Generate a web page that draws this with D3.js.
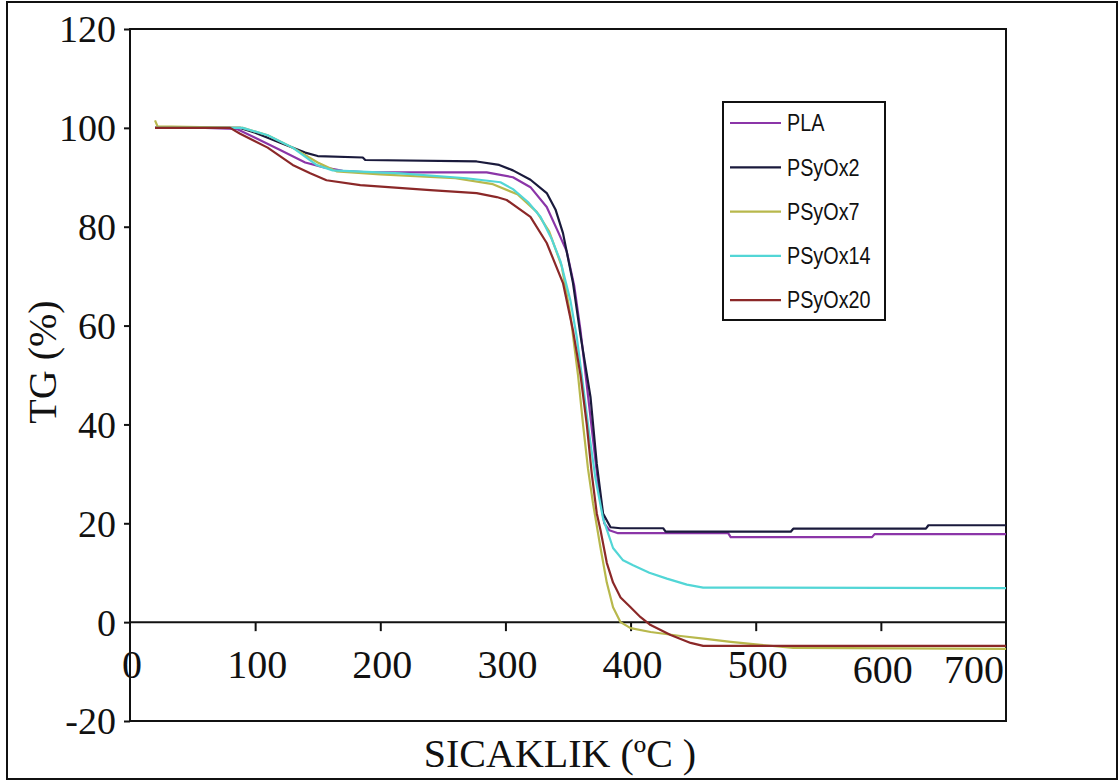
<!DOCTYPE html>
<html>
<head>
<meta charset="utf-8">
<script src="https://cdn.jsdelivr.net/npm/d3@7"></script>
<style>
  html, body { margin: 0; padding: 0; background: #fff; }
  svg { display: block; }
</style>
</head>
<body>
<svg id="chart" width="1119" height="781"></svg>
<script>
// ---- data ----
const seriesNames = ["PLA", "PSyOx2", "PSyOx7", "PSyOx14", "PSyOx20"];
const seriesColors = ["#8b35a8", "#1a1a3c", "#b8b84c", "#52d6d6", "#8b2828"];

const tempPLA = [20,60,85,100,120,140,155,170,190,285,306,320,333,342,349,355,360,365,370,375,379,383,390,478,480,593,595,700];
const tgPLA   = [100,100,99.8,98,95.5,93,92,91.3,91,91,90,88,84,79,75,68,59,48,37,26,20,18.6,18,18,17.2,17.2,17.8,17.8];

const tempPSyOx2 = [20,88,100,120,140,150,186,188,277,295,306,320,333,340,346,354,360,368,373,378,384,392,426,428,528,530,636,638,700];
const tgPSyOx2   = [100,100,99,97,95,94.3,94,93.5,93.2,92.5,91.4,89.5,86.8,83.5,78.7,68.6,58,45.5,32,22,19.2,19,19,18.3,18.3,18.9,18.9,19.6,19.6];

const tempPSyOx7 = [20,22,90,110,130,150,165,200,260,290,310,325,335,345,352,358,362,366,370,376,381,386,392,400,416,440,460,480,504,530,700];
const tgPSyOx7   = [101.5,100.3,100,98.5,96,93,91.2,90.6,89.8,88.6,86.5,83,79,72,62,50,40,31,24,15,8,3,0,-1.2,-2,-2.8,-3.4,-4,-4.6,-5.2,-5.4];

const tempPSyOx14 = [20,90,110,130,149,162,216,269,296,306,318,328,337,344,352,357,362,367,372,378,386,394,402,415,429,445,458,700];
const tgPSyOx14   = [100,100,98.5,96,92.5,91.4,90.8,89.8,89,87.6,85,82,77.5,73,65,57.7,48,38,29,21,15,12.5,11.5,10,8.8,7.6,7,6.9];

const tempPSyOx20 = [20,80,88,110,130,144,157,184,240,277,293,301,320,333,346,354,360,365,369,373,376,381,386,392,400,408,416,432,448,458,700];
const tgPSyOx20   = [100,100,98.8,96,92.5,90.8,89.4,88.4,87.4,86.8,86,85.4,82,76.7,68.6,59,50,40,30,22,18.6,12,8,5,3,1,-0.6,-2.6,-4.2,-4.8,-4.8];

const xTicks = [0,100,200,300,400,500,600,700];
const yTicks = [-20,0,20,40,60,80,100,120];

const seriesData = [
  {name: seriesNames[0], color: seriesColors[0], t: tempPLA, v: tgPLA},
  {name: seriesNames[1], color: seriesColors[1], t: tempPSyOx2, v: tgPSyOx2},
  {name: seriesNames[2], color: seriesColors[2], t: tempPSyOx7, v: tgPSyOx7},
  {name: seriesNames[3], color: seriesColors[3], t: tempPSyOx14, v: tgPSyOx14},
  {name: seriesNames[4], color: seriesColors[4], t: tempPSyOx20, v: tgPSyOx20}
];

// ---- layout ----
const svg = d3.select("#chart");
const M = {left: 130, top: 29, right: 1006, bottom: 721};
const x = d3.scaleLinear().domain([0, 700]).range([M.left, M.right]);
const y = d3.scaleLinear().domain([-20, 120]).range([M.bottom, M.top]);

const serif = "'Liberation Serif', 'Times New Roman', serif";
const sans = "'Liberation Sans', Arial, sans-serif";

// outer frame
svg.append("rect").attr("x", 7).attr("y", 2).attr("width", 1110).attr("height", 777)
  .attr("fill", "#fff").attr("stroke", "#111").attr("stroke-width", 2);

// plot frame
svg.append("rect").attr("x", M.left).attr("y", M.top)
  .attr("width", M.right - M.left).attr("height", M.bottom - M.top)
  .attr("fill", "none").attr("stroke", "#111").attr("stroke-width", 2);

// y axis
const yAxis = svg.append("g").attr("transform", `translate(${M.left},0)`)
  .call(d3.axisLeft(y).tickValues(yTicks).tickSize(6).tickPadding(8).tickFormat(d => String(d)));
yAxis.select(".domain").remove();
yAxis.selectAll(".tick line").attr("stroke", "#111").attr("stroke-width", 2);
yAxis.selectAll(".tick text").attr("font-family", serif).attr("font-size", 38).attr("fill", "#111")
  .attr("dy", "0.34em");

// x axis at y = 0
const xAxisG = svg.append("g").attr("transform", `translate(0,${y(0)})`)
  .call(d3.axisBottom(x).tickValues(xTicks.filter(d => d > 0 && d < 700)).tickSize(9).tickFormat(""));
xAxisG.select(".domain").remove();
xAxisG.selectAll(".tick line").attr("stroke", "#111").attr("stroke-width", 2);
svg.append("line").attr("x1", x(0)).attr("x2", x(700)).attr("y1", y(0)).attr("y2", y(0))
  .attr("stroke", "#111").attr("stroke-width", 2);

// x tick labels
svg.append("g").selectAll("text").data(xTicks).join("text")
  .attr("x", d => d === 700 ? x(d) - 2 : x(d) + 2)
  .attr("y", d => d >= 600 ? 683 : 678)
  .attr("text-anchor", d => d === 700 ? "end" : "middle")
  .attr("font-family", serif).attr("font-size", 40).attr("fill", "#111")
  .text(d => String(d));

// lines
const line = d3.line().x(d => x(d[0])).y(d => y(d[1]));
svg.append("g").selectAll("path").data(seriesData).join("path")
  .attr("d", s => line(s.t.map((t, i) => [t, s.v[i]])))
  .attr("fill", "none").attr("stroke", s => s.color).attr("stroke-width", 2.2)
  .attr("stroke-linejoin", "round");

// axis titles
svg.append("text").attr("x", 560).attr("y", 767).attr("text-anchor", "middle")
  .attr("font-family", serif).attr("font-size", 40).attr("fill", "#111")
  .text("SICAKLIK (ºC )");

svg.append("text").attr("transform", "translate(56,362) rotate(-90)").attr("text-anchor", "middle")
  .attr("font-family", serif).attr("font-size", 40).attr("fill", "#111")
  .text("TG (%)");

// legend
const lg = svg.append("g");
lg.append("rect").attr("x", 723).attr("y", 102).attr("width", 162).attr("height", 218)
  .attr("fill", "#fff").attr("stroke", "#111").attr("stroke-width", 2);
const items = lg.selectAll("g.item").data(seriesData).join("g").attr("class", "item")
  .attr("transform", (d, i) => `translate(0,${123 + i * 44.3})`);
items.append("line").attr("x1", 730).attr("x2", 781).attr("y1", 0).attr("y2", 0)
  .attr("stroke", d => d.color).attr("stroke-width", 2.2);
items.append("text")
  .attr("transform", "translate(787,0) scale(0.86,1)")
  .attr("dy", "0.36em")
  .attr("font-family", sans).attr("font-size", 23).attr("fill", "#111")
  .text(d => d.name);
</script>
</body>
</html>
